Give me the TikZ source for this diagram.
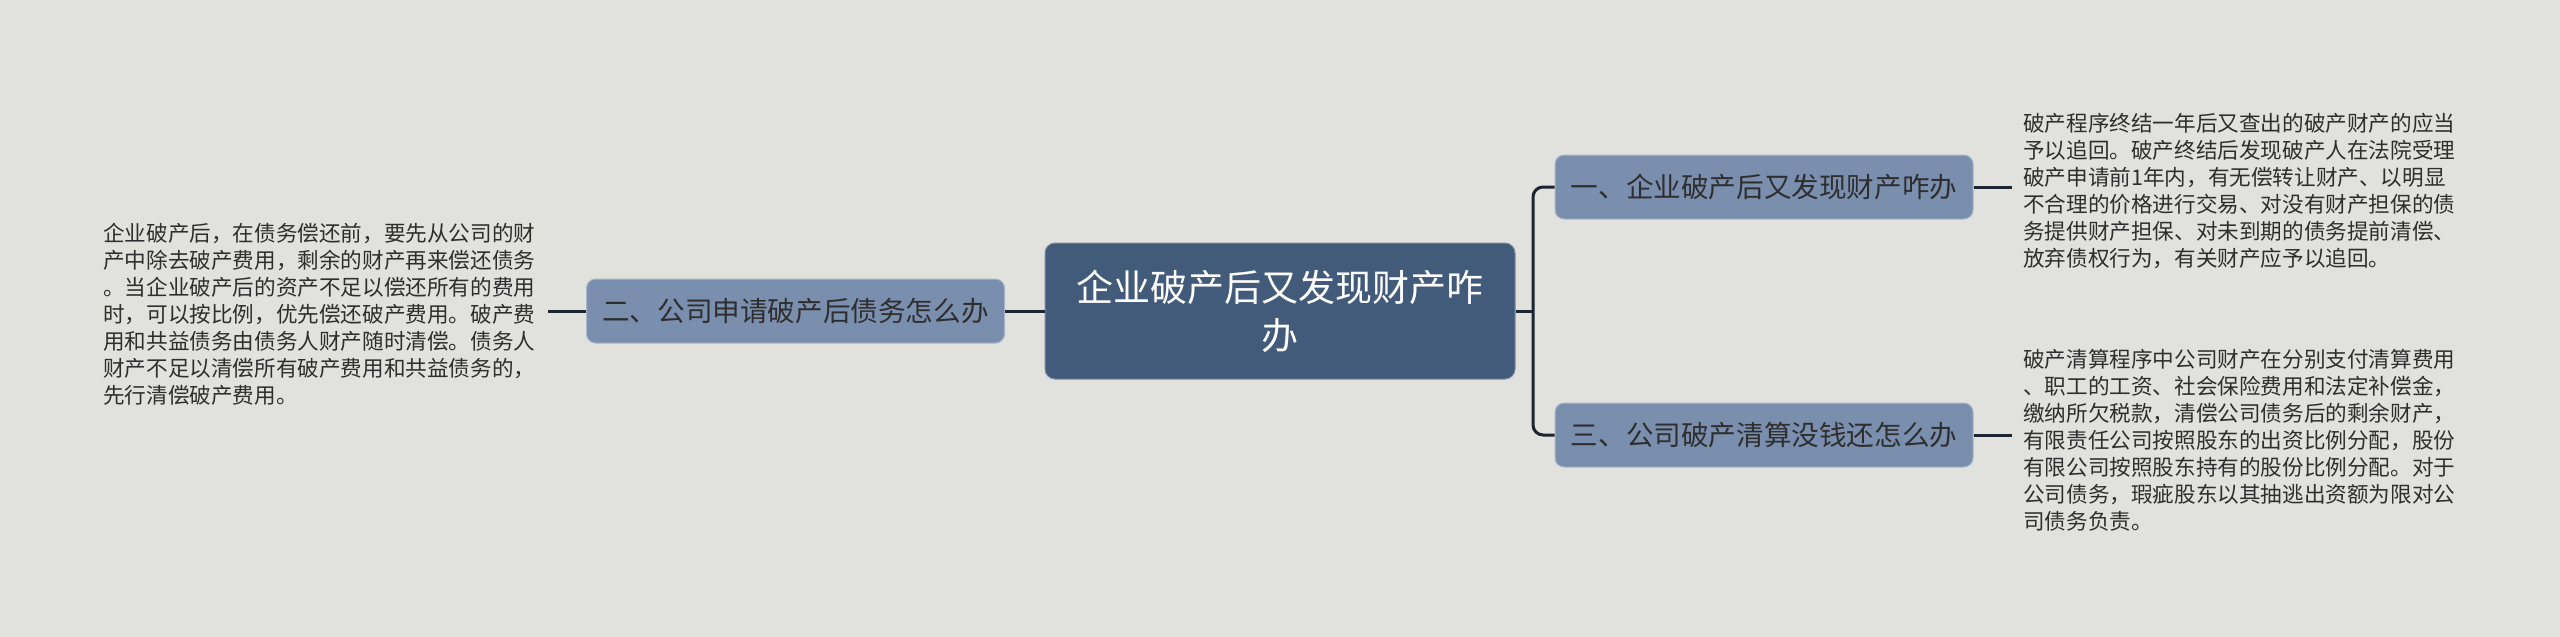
\documentclass[tikz,border=0pt]{standalone}
\usepackage{fontspec}
\setmainfont{Noto Sans CJK SC}
\definecolor{bgc}{HTML}{E1E2DD}
\definecolor{rootc}{HTML}{435B7A}
\definecolor{subc}{HTML}{7A8FAE}
\definecolor{subline}{HTML}{A9B6C8}
\definecolor{linec}{HTML}{1C2630}
\definecolor{txtc}{HTML}{2E2E2E}
\tikzset{
  rootbox/.style={fill=rootc, draw=rootc!70!white, line width=1pt, rounded corners=10pt, minimum width=470pt, minimum height=136pt, text width=420pt, align=center, text=white, font=\fontsize{37}{48}\selectfont, inner sep=0pt},
  subbox/.style={fill=subc, draw=subline, line width=1pt, rounded corners=9pt, minimum width=418pt, minimum height=64pt, text=txtc, font=\fontsize{27.6}{32}\selectfont, inner sep=0pt},
  leaftext/.style={text=txtc, align=left, font=\fontsize{21.6}{27}\selectfont, inner sep=0pt, anchor=west},
  conn/.style={draw=linec, line width=3pt},
}
\begin{document}
\begin{tikzpicture}[x=1pt, y=-1pt]
\useasboundingbox (0,0) rectangle (2560,637);
\fill[bgc] (0,0) rectangle (2560,637);

\node[rootbox] (c) at (1280,311) {企业破产后又发现财产咋\\办};
\node[subbox] (n2) at (795.5,311) {二、公司申请破产后债务怎么办};
\node[subbox] (n1) at (1764,187) {一、企业破产后又发现财产咋办};
\node[subbox] (n3) at (1764,435) {三、公司破产清算没钱还怎么办};

\node[leaftext] (t2) at (103,314) {企业破产后，在债务偿还前，要先从公司的财\\产中除去破产费用，剩余的财产再来偿还债务\\。当企业破产后的资产不足以偿还所有的费用\\时，可以按比例，优先偿还破产费用。破产费\\用和共益债务由债务人财产随时清偿。债务人\\财产不足以清偿所有破产费用和共益债务的，\\先行清偿破产费用。};
\node[leaftext] (t1) at (2023,191) {破产程序终结一年后又查出的破产财产的应当\\予以追回。破产终结后发现破产人在法院受理\\破产申请前1年内，有无偿转让财产、以明显\\不合理的价格进行交易、对没有财产担保的债\\务提供财产担保、对未到期的债务提前清偿、\\放弃债权行为，有关财产应予以追回。};
\node[leaftext] (t3) at (2023,440) {破产清算程序中公司财产在分别支付清算费用\\、职工的工资、社会保险费用和法定补偿金，\\缴纳所欠税款，清偿公司债务后的剩余财产，\\有限责任公司按照股东的出资比例分配，股份\\有限公司按照股东持有的股份比例分配。对于\\公司债务，瑕疵股东以其抽逃出资额为限对公\\司债务负责。};

\coordinate (tr) at (1533,311);
\coordinate (e1) at (2012,187);
\coordinate (e3) at (2012,435);
\coordinate (e2) at (548,311);

\draw[conn] (c.east) -- (tr);
\draw[conn, rounded corners=10pt] (n1.west) -| (tr);
\draw[conn, rounded corners=10pt] (n3.west) -| (tr);
\draw[conn] (c.west) -- (n2.east);
\draw[conn] (n2.west) -- (e2);
\draw[conn] (n1.east) -- (e1);
\draw[conn] (n3.east) -- (e3);
\end{tikzpicture}
\end{document}
